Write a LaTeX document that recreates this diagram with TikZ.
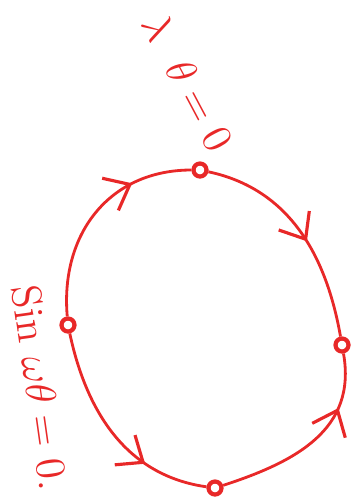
\documentclass[tikz,border=0pt]{standalone}
\usetikzlibrary{arrows.meta,decorations.markings}
\definecolor{pen}{RGB}{232,40,40}
\tikzset{
  fixpt/.style={draw=pen,line width=1.2pt,circle,inner sep=0pt,minimum size=0.13cm},
  flow/.style={pen,line width=0.8pt,postaction={decorate},
    decoration={markings,mark=at position #1 with {\arrow{Straight Barb[length=2.2mm,width=3.6mm,line width=0.9pt]}}}},
  hand/.style={pen,font=\large}
}
\begin{document}
\begin{tikzpicture}
  \useasboundingbox (0,0) rectangle (3.62,-4.99);
  % fixed points on the circle
  \node[fixpt] (top) at (2.00,-1.70) {};
  \node[fixpt] (rgt) at (3.42,-3.45) {};
  \node[fixpt] (bot) at (2.15,-4.88) {};
  \node[fixpt] (lft) at (0.68,-3.25) {};
  % flow from the left point to the right one
  \draw[flow=0.72] (lft) to[out=95,in=180,looseness=1.1] (top);
  \draw[flow=0.55] (top) to[out=-12,in=100,looseness=1.0] (rgt);
  \draw[flow=0.70] (lft) to[out=-78,in=172,looseness=1.0] (bot);
  \draw[flow=0.72] (bot) to[out=18,in=-80,looseness=1.1] (rgt);
  % labels
  \node[hand,rotate=-62] (lam) at (1.88,-0.82) {$\lambda$\ \ $\theta=0$};
  \node[hand,rotate=-82] (sin) at (0.40,-3.88) {Sin $\omega\theta=0.$};
\end{tikzpicture}
\end{document}
